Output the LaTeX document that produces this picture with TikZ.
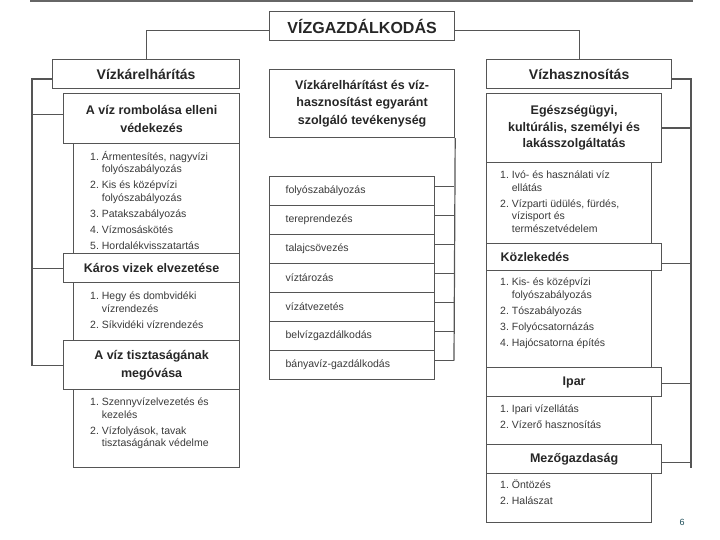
\documentclass[tikz,border=0pt]{standalone}
\usepackage{fontspec}
\setmainfont{Liberation Sans}
\usepackage{xcolor}
\usepackage{tikz}
\usetikzlibrary{positioning}

\definecolor{linec}{HTML}{555555}
\definecolor{txt}{HTML}{262626}
\definecolor{lsttxt}{HTML}{3a3a3a}
\definecolor{pgnum}{HTML}{1f4f5a}
\newcommand{\bigf}{\fontsize{16}{18}\selectfont\bfseries}
\newcommand{\hdf}{\fontsize{14}{16}\selectfont\bfseries}
\newcommand{\subf}{\fontsize{12.5}{16.5}\selectfont\bfseries}
\newcommand{\lstf}{\fontsize{10.5}{12.5}\selectfont}
\newcommand{\gap}{\\[3.5pt]}

\begin{document}
\begin{tikzpicture}[x=1pt,y=-1pt,
	hbox/.style={draw=linec,line width=1.2pt,fill=white,inner sep=0pt,anchor=north west,align=center,text=txt},
	lbox/.style={draw=linec,line width=1.2pt,fill=white,inner sep=0pt,anchor=north west},
	ltxt/.style={inner sep=0pt,anchor=north west,text=lsttxt,font=\lstf},
	row/.style={draw=linec,line width=1.2pt,fill=white,anchor=north west,minimum width=165pt,minimum height=29pt,
		inner xsep=16pt,inner ysep=0pt,text width=133pt,align=left,text=lsttxt,font=\lstf},
	conn/.style={draw=linec,line width=1.2pt}]
		\useasboundingbox (0,0) rectangle (720,540);
		\draw[line width=2pt,gray!80!black] (30,1) -- (693,1);

		\node[hbox,minimum width=185pt,minimum height=29pt,font=\bigf] (main) at (269,11) {VÍZGAZDÁLKODÁS};
		\node[hbox,minimum width=187pt,minimum height=29pt,font=\hdf] (vk) at (52,59) {Vízkárelhárítás};
		\node[hbox,minimum width=185pt,minimum height=29pt,font=\hdf] (vh) at (486,59) {Vízhasznosítás};
		\node[hbox,minimum width=185pt,minimum height=68pt,font=\fontsize{12.5}{17.5}\selectfont\bfseries] (mt) at (269,69)
			{Vízkárelhárítást és víz-\\hasznosítást egyaránt\\szolgáló tevékenység};

		\node[lbox,minimum width=166pt,minimum height=110pt] (l1) at (73,143) {};
		\node[lbox,minimum width=166pt,minimum height=58pt] (l2) at (73,282) {};
		\node[lbox,minimum width=166pt,minimum height=78pt] (l3) at (73,389) {};
		\node[hbox,minimum width=176pt,minimum height=50pt,font=\fontsize{12.5}{18}\selectfont\bfseries] (s1) at (63,93) {A víz rombolása elleni\\védekezés};
		\node[hbox,minimum width=176pt,minimum height=29pt,font=\subf] (s2) at (63,253) {Káros vizek elvezetése};
		\node[hbox,minimum width=176pt,minimum height=49pt,font=\fontsize{12.5}{18}\selectfont\bfseries] (s3) at (63,340) {A víz tisztaságának\\megóvása};

		\node[ltxt] (t1) at ([xshift=17pt,yshift=-8pt]l1.north west) {\begin{tabular}{@{}r@{~}l@{}}
			1. & Ármentesítés, nagyvízi\\ & folyószabályozás\gap
			2. & Kis és középvízi\\ & folyószabályozás\gap
			3. & Patakszabályozás\gap
			4. & Vízmosáskötés\gap
			5. & Hordalékvisszatartás\end{tabular}};
		\node[ltxt] (t2) at ([xshift=17pt,yshift=-9pt]l2.north west) {\begin{tabular}{@{}r@{~}l@{}}
			1. & Hegy és dombvidéki\\ & vízrendezés\gap
			2. & Síkvidéki vízrendezés\end{tabular}};
		\node[ltxt] (t3) at ([xshift=17pt,yshift=-8pt]l3.north west) {\begin{tabular}{@{}r@{~}l@{}}
			1. & Szennyvízelvezetés és\\ & kezelés\gap
			2. & Vízfolyások, tavak\\ & tisztaságának védelme\end{tabular}};

		\node[lbox,minimum width=165pt,minimum height=81pt] (rl1) at (486,162) {};
		\node[lbox,minimum width=165pt,minimum height=97pt] (rl2) at (486,270) {};
		\node[lbox,minimum width=165pt,minimum height=48pt] (rl3) at (486,396) {};
		\node[lbox,minimum width=165pt,minimum height=49pt] (rl4) at (486,473) {};
		\node[hbox,minimum width=175pt,minimum height=69pt,font=\subf] (r1) at (486,93) {Egészségügyi,\\kultúrális, személyi és\\lakásszolgáltatás};
		\node[hbox,minimum width=175pt,minimum height=27pt,inner xsep=14pt,text width=147pt,align=left,font=\subf] (r2) at (486,243) {Közlekedés};
		\node[hbox,minimum width=175pt,minimum height=29pt,font=\subf] (r3) at (486,367) {Ipar};
		\node[hbox,minimum width=175pt,minimum height=29pt,font=\subf] (r4) at (486,444) {Mezőgazdaság};

		\node[ltxt] (u1) at ([xshift=14pt,yshift=-8pt]rl1.north west) {\begin{tabular}{@{}r@{~}l@{}}
			1. & Ivó- és használati víz\\ & ellátás\gap
			2. & Vízparti üdülés, fürdés,\\ & vízisport és\\ & természetvédelem\end{tabular}};
		\node[ltxt] (u2) at ([xshift=14pt,yshift=-7pt]rl2.north west) {\begin{tabular}{@{}r@{~}l@{}}
			1. & Kis- és középvízi\\ & folyószabályozás\gap
			2. & Tószabályozás\gap
			3. & Folyócsatornázás\gap
			4. & Hajócsatorna építés\end{tabular}};
		\node[ltxt] (u3) at ([xshift=14pt,yshift=-8pt]rl3.north west) {\begin{tabular}{@{}r@{~}l@{}}
			1. & Ipari vízellátás\gap
			2. & Vízerő hasznosítás\end{tabular}};
		\node[ltxt] (u4) at ([xshift=14pt,yshift=-7pt]rl4.north west) {\begin{tabular}{@{}r@{~}l@{}}
			1. & Öntözés\gap
			2. & Halászat\end{tabular}};

		\foreach \t [count=\k] in {folyószabályozás,tereprendezés,talajcsövezés,víztározás,vízátvezetés,belvízgazdálkodás,bányavíz-gazdálkodás}
			\node[row] (m\k) at (269,{176+29*(\k-1)}) {\t};

		\coordinate (lb) at (32,0);
		\coordinate (rb) at (691,468);
		\coordinate (mb) at (454,0);
		\draw[conn] ([yshift=-4.5pt]main.west) -| (vk.north);
		\draw[conn] ([yshift=-4.5pt]main.east) -| (vh.north);
		\draw[conn] ([yshift=-5pt]vk.west) -| (lb |- s3.west) -- (s3.west);
		\draw[conn] ([yshift=4pt]s1.west) -- ([yshift=4pt]s1.west -| lb);
		\draw[conn] (s2.west) -- (s2.west -| lb);
		\draw[conn] ([yshift=-5pt]vh.east) -| (rb);
		\draw[conn] (r1.east) -- (r1.east -| rb);
		\draw[conn] ([yshift=-6.5pt]r2.east) -- ([yshift=-6.5pt]r2.east -| rb);
		\draw[conn] ([yshift=-1.5pt]r3.east) -- ([yshift=-1.5pt]r3.east -| rb);
		\draw[conn] ([yshift=-3pt]r4.east) -- ([yshift=-3pt]r4.east -| rb);
		\draw[conn] (mt.south east) -- ([yshift=4.5pt]m7.east -| mb);
		\foreach \k in {1,...,7}
			\draw[conn] ([yshift=4.5pt]m\k.east) -- ([yshift=4.5pt]m\k.east -| mb);

		\node[text=pgnum,font=\fontsize{9}{10}\selectfont] (pg) at (682,522) {6};
\end{tikzpicture}
\end{document}
